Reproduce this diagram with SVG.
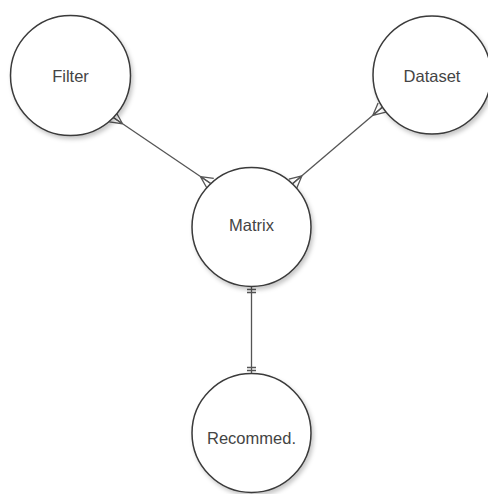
<svg xmlns="http://www.w3.org/2000/svg" width="488" height="494" viewBox="0 0 488 494">
  <style>
    .node circle { fill: #ffffff; stroke: #3a3a3a; stroke-width: 1.5; filter: url(#shadow); }
    .node text { font-family: "Liberation Sans", Arial, sans-serif; font-size: 16.5px; fill: #444444; text-anchor: middle; }
    .conn { fill: none; stroke: #555555; stroke-width: 1.3; }
    .mk { fill: none; stroke: #555555; stroke-width: 1.3; }
  </style>
  <defs>
    <filter id="shadow" x="-20%" y="-20%" width="140%" height="140%">
      <feDropShadow dx="2" dy="3" stdDeviation="2" flood-color="#000000" flood-opacity="0.22"/>
    </filter>
    <marker id="crow" markerUnits="userSpaceOnUse" markerWidth="16" markerHeight="16" viewBox="-14 -8 16 16" refX="0" refY="0" orient="auto-start-reverse">
      <path class="mk" d="M-12,0 L0,-6 M-12,0 L0,0 M-12,0 L0,6"/>
    </marker>
    <marker id="one" markerUnits="userSpaceOnUse" markerWidth="12" markerHeight="12" viewBox="-9 -6 12 12" refX="0" refY="0" orient="auto-start-reverse">
      <path class="mk" d="M-3,-4.5 L-3,4.5 M-6,-4.5 L-6,4.5"/>
    </marker>
  </defs>
  <rect width="488" height="494" fill="#ffffff"/>
  <g id="connectors">
    <path class="conn" d="M112.6,117 L210.4,183.3" marker-start="url(#crow)" marker-end="url(#crow)"/>
    <path class="conn" d="M382,107.5 L292.8,183.6" marker-start="url(#crow)" marker-end="url(#crow)"/>
    <path class="conn" d="M251.5,286.5 L251.5,373.5" marker-start="url(#one)" marker-end="url(#one)"/>
  </g>
  <g id="filter" class="node">
    <circle cx="70.5" cy="75.5" r="60"/>
    <text x="70.5" y="82">Filter</text>
  </g>
  <g id="dataset" class="node">
    <circle cx="432" cy="75" r="59"/>
    <text x="432" y="82">Dataset</text>
  </g>
  <g id="matrix" class="node">
    <circle cx="251.5" cy="227" r="59.5"/>
    <text x="251.5" y="231">Matrix</text>
  </g>
  <g id="recommed" class="node">
    <circle cx="251.5" cy="433" r="59.5"/>
    <text x="251.5" y="444">Recommed.</text>
  </g>
</svg>
